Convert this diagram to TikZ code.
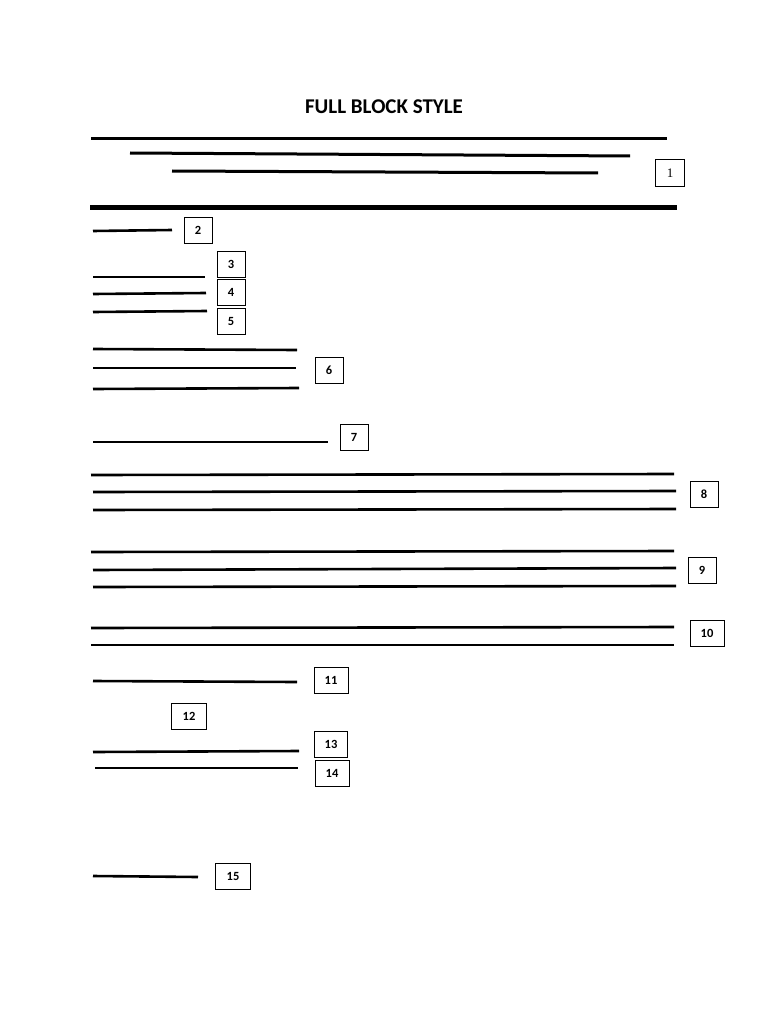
\documentclass[tikz,border=0pt]{standalone}
\usepackage{fontspec}
\setmainfont{Carlito}
\newfontfamily\numserif{Liberation Serif}
\usepackage{tikz}
\usetikzlibrary{positioning}

\begin{document}
\begin{tikzpicture}[x=1pt,y=-1pt]
        \useasboundingbox[fill=white] (0,0) rectangle (768,1024);
        \node[font=\bfseries\fontsize{21}{25}\selectfont] (title) at (384,107) {FULL BLOCK STYLE};
        % heading lines
        \begin{scope}[line width=3pt]
        \draw (91,139) -- (667,139);
        \draw (130,153) -- (630,156);
        \draw (172,171) -- (598,173);
        \end{scope}
        \draw[line width=5pt] (90,208) -- (677,208);
        % body lines
        \begin{scope}[line width=2.6pt]
        \draw (93,231) -- (172,230);
        \draw (93,277) -- (205,277);
        \draw (93,294) -- (206,293);
        \draw (93,312) -- (207,311);
        \draw (93,349) -- (297,350);
        \draw (93,368) -- (296,368);
        \draw (93,389) -- (299,388);
        \draw (93,442) -- (328,442);
        \draw (91,475) -- (674,474);
        \draw (93,492) -- (676,491);
        \draw (93,510) -- (676,509);
        \draw (91,552) -- (674,551);
        \draw (93,570) -- (676,568);
        \draw (93,587) -- (676,586);
        \draw (91,628) -- (674,627);
        \draw (91,645) -- (674,645);
        \draw (93,681) -- (297,682);
        \draw (93,752) -- (299,751);
        \draw (93,876) -- (198,877);
        \end{scope}
        \draw[line width=2pt] (95,768) -- (298,768);
        % number boxes
        \begin{scope}[every node/.style={draw,line width=0.9pt,minimum width=28pt,minimum height=26pt,inner sep=0pt,font=\bfseries\fontsize{12.5}{15}\selectfont}]
        \node[font=\numserif\fontsize{13}{15}\selectfont,minimum width=29pt,minimum height=27pt] (b1) at (670,173) {1};
        \node (b2) at (198,230) {2};
        \node (b3) at (231,264) {3};
        \node (b4) at (231,292) {4};
        \node (b5) at (231,321) {5};
        \node (b6) at (329,370) {6};
        \node (b7) at (354,437) {7};
        \node (b8) at (704,494) {8};
        \node (b9) at (702,570) {9};
        \node[minimum width=34pt] (b10) at (707,633) {10};
        \node[minimum width=34pt] (b11) at (331,680) {11};
        \node[minimum width=35pt] (b12) at (189,716) {12};
        \node[minimum width=33pt] (b13) at (331,744) {13};
        \node[minimum width=34pt] (b14) at (332,773) {14};
        \node[minimum width=35pt] (b15) at (233,876) {15};
        \end{scope}
\end{tikzpicture}
\end{document}
